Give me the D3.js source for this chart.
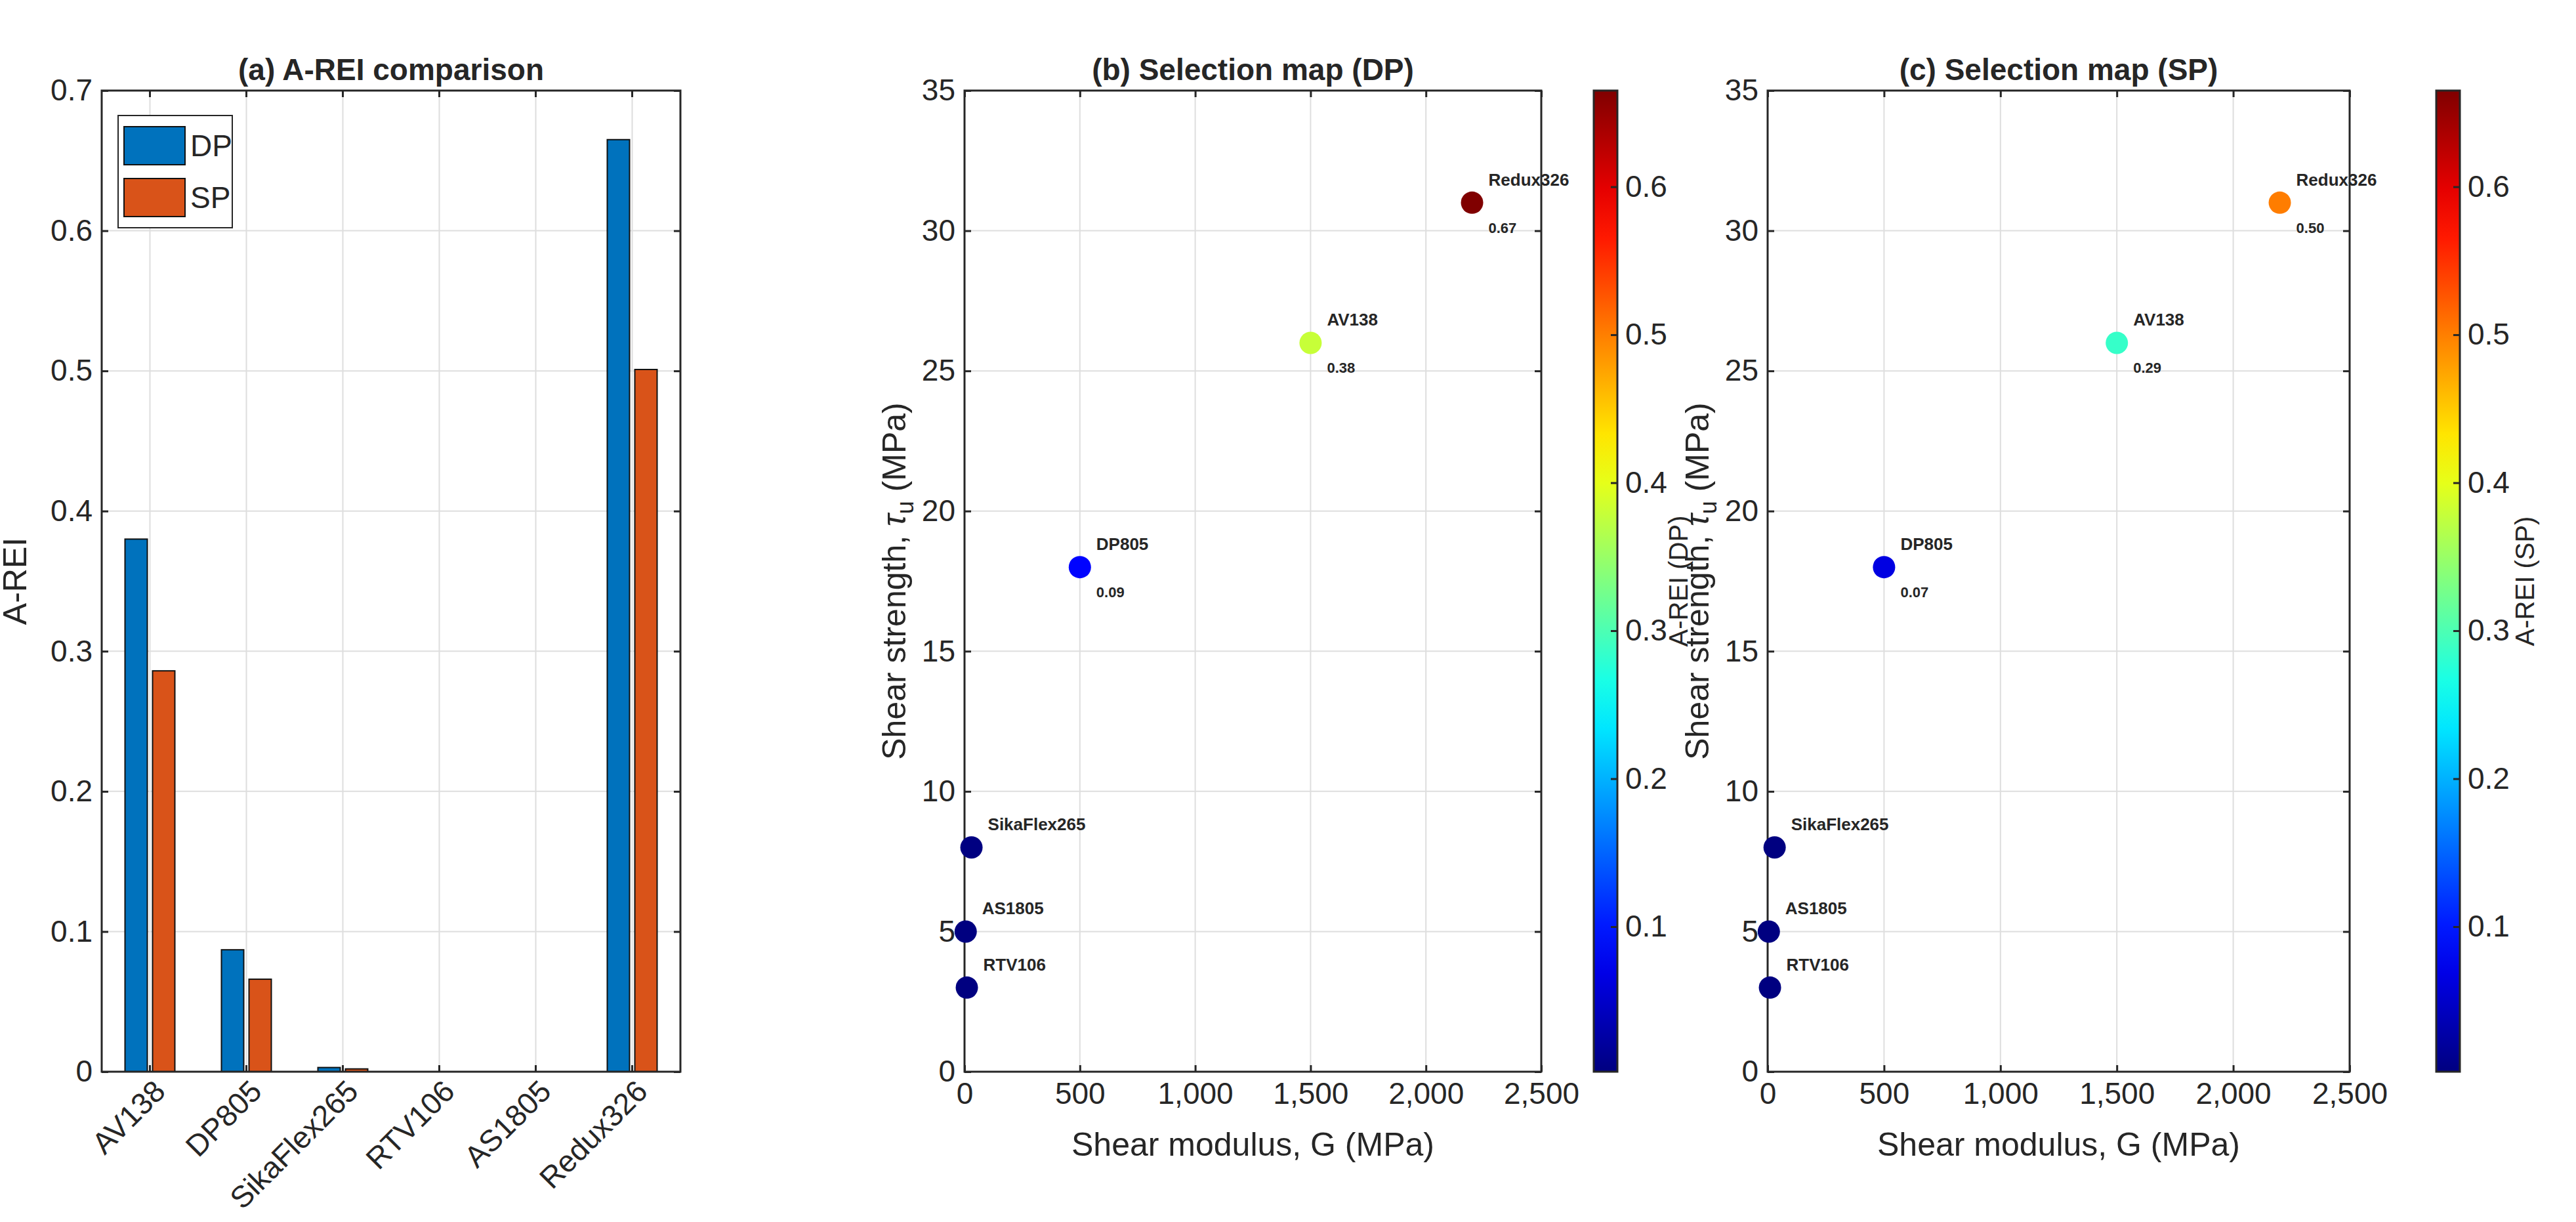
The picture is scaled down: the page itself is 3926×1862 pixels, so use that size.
<!DOCTYPE html>
<html><head><meta charset="utf-8">
<script src="https://cdn.jsdelivr.net/npm/d3@7"></script>
<style>body{margin:0;background:#fff}text{font-family:"Liberation Sans",Arial,sans-serif;fill:#262626}</style>
</head><body><svg id="c" width="3926" height="1862"></svg>
<script>
const materials = ["AV138", "DP805", "SikaFlex265", "RTV106", "AS1805", "Redux326"];
const areiDP = [0.380, 0.087, 0.003, 0, 0, 0.665];
const areiSP = [0.286, 0.066, 0.002, 0, 0, 0.501];
const shearG = [1500, 500, 30, 10, 5, 2200];
const shearTau = [26, 18, 8, 3, 5, 31];
const barYTicks = [0, 0.1, 0.2, 0.3, 0.4, 0.5, 0.6, 0.7];
const gTicks = [0, 500, 1000, 1500, 2000, 2500];
const tauTicks = [0, 5, 10, 15, 20, 25, 30, 35];
const cbarTicks = [0.1, 0.2, 0.3, 0.4, 0.5, 0.6];
const cmin = 0.002, cmax = 0.665;

function jet(t) {
  t = Math.max(0, Math.min(1, t));
  const c = v => Math.round(255 * Math.max(0, Math.min(1, v)));
  return `rgb(${c(1.5 - Math.abs(4 * t - 3))},${c(1.5 - Math.abs(4 * t - 2))},${c(1.5 - Math.abs(4 * t - 1))})`;
}
const color = v => jet((v - cmin) / (cmax - cmin));

const svg = d3.select("#c");
const plotTop = 138, plotBottom = 1633;
const ink = "#262626";

function box(g, w, h) {
  g.append("rect").attr("width", w).attr("height", h).attr("fill", "none").attr("stroke", ink).attr("stroke-width", 3);
}
function grid(g, x, y, xt, yt, w, h) {
  g.selectAll(".gx").data(xt).join("line").attr("x1", x).attr("x2", x).attr("y1", 0).attr("y2", h).attr("stroke", "#dedede").attr("stroke-width", 2);
  g.selectAll(".gy").data(yt).join("line").attr("x1", 0).attr("x2", w).attr("y1", y).attr("y2", y).attr("stroke", "#dedede").attr("stroke-width", 2);
}
function styleAxis(a) {
  a.selectAll("path").remove();
  a.selectAll("line").attr("stroke", ink).attr("stroke-width", 3);
  a.selectAll("text").style("font-size", "46px").attr("fill", ink);
}

// (a) bars
{
  const L = 155, R = 1037, w = R - L, h = plotBottom - plotTop;
  const g = svg.append("g").attr("transform", `translate(${L},${plotTop})`);
  const x = d3.scaleBand().domain(materials).range([0, w]);
  const y = d3.scaleLinear().domain([0, 0.7]).range([h, 0]);
  grid(g, d => x(d) + x.bandwidth() / 2, d => y(d), materials, barYTicks, w, h);
  const bw = 34, off = 21;
  [[areiDP, "#0072BD", -off], [areiSP, "#D95319", off]].forEach(([vals, col, o]) => {
    g.selectAll(null).data(materials).join("rect")
      .attr("x", d => x(d) + x.bandwidth() / 2 + o - bw / 2)
      .attr("y", (d, i) => y(vals[i])).attr("width", bw)
      .attr("height", (d, i) => h - y(vals[i]))
      .attr("fill", col).attr("stroke", "#111").attr("stroke-width", 2)
      .attr("display", (d, i) => vals[i] > 0 ? null : "none");
  });
  const ax = g.append("g").attr("transform", `translate(0,${h})`).call(d3.axisBottom(x).tickSize(-10).tickPadding(14));
  styleAxis(ax);
  ax.selectAll("text").attr("text-anchor", "end").attr("transform", "rotate(-45)").attr("dx", "-0.1em").attr("dy", "0.6em");
  g.append("g").call(d3.axisTop(x).tickSize(-10).tickFormat("")).call(styleAxis);
  g.append("g").call(d3.axisLeft(y).tickValues(barYTicks).tickSize(-10).tickPadding(14).tickFormat(d3.format("~g"))).call(styleAxis);
  g.append("g").attr("transform", `translate(${w},0)`).call(d3.axisRight(y).tickValues(barYTicks).tickSize(-10).tickFormat("")).call(styleAxis);
  box(g, w, h);
  g.append("text").attr("x", w / 2).attr("y", -16).attr("text-anchor", "middle").style("font-size", "46px").style("font-weight", "bold").attr("fill", "#000").text("(a) A-REI comparison");
  g.append("text").attr("transform", `translate(-115,${h / 2}) rotate(-90)`).attr("text-anchor", "middle").style("font-size", "50px").text("A-REI");
  // legend
  const lg = g.append("g").attr("transform", "translate(25,38)");
  lg.append("rect").attr("width", 174).attr("height", 171).attr("fill", "#fff").attr("stroke", ink).attr("stroke-width", 2);
  [["DP", "#0072BD"], ["SP", "#D95319"]].forEach(([n, c], i) => {
    lg.append("rect").attr("x", 9).attr("y", 17 + i * 79).attr("width", 93).attr("height", 58).attr("fill", c).attr("stroke", "#111").attr("stroke-width", 2);
    lg.append("text").attr("x", 110).attr("y", 62 + i * 79).style("font-size", "46px").attr("fill", "#000").text(n);
  });
}

// (b), (c) scatter maps
function mapPanel(L, R, cbL, labelX, vals, title, cbLabel) {
  const w = R - L, h = plotBottom - plotTop;
  const g = svg.append("g").attr("transform", `translate(${L},${plotTop})`);
  const x = d3.scaleLinear().domain([0, 2500]).range([0, w]);
  const y = d3.scaleLinear().domain([0, 35]).range([h, 0]);
  grid(g, d => x(d), d => y(d), gTicks, tauTicks, w, h);
  g.append("g").attr("transform", `translate(0,${h})`).call(d3.axisBottom(x).tickValues(gTicks).tickSize(-10).tickPadding(16)).call(styleAxis);
  g.append("g").call(d3.axisTop(x).tickValues(gTicks).tickSize(-10).tickFormat("")).call(styleAxis);
  g.append("g").call(d3.axisLeft(y).tickValues(tauTicks).tickSize(-10).tickPadding(14)).call(styleAxis);
  g.append("g").attr("transform", `translate(${w},0)`).call(d3.axisRight(y).tickValues(tauTicks).tickSize(-10).tickFormat("")).call(styleAxis);
  box(g, w, h);
  materials.forEach((m, i) => {
    const px = x(shearG[i]), py = y(shearTau[i]);
    g.append("circle").attr("cx", px).attr("cy", py).attr("r", 17).attr("fill", color(vals[i]));
    g.append("text").attr("x", px + 25).attr("y", py - 26).style("font-size", "26px").style("font-weight", "bold").attr("fill", "#000").text(m);
    if (vals[i] > 0.05)
      g.append("text").attr("x", px + 25).attr("y", py + 46).style("font-size", "22px").style("font-weight", "bold").attr("fill", "#000").text(vals[i].toFixed(2));
  });
  g.append("text").attr("x", w / 2).attr("y", -16).attr("text-anchor", "middle").style("font-size", "46px").style("font-weight", "bold").attr("fill", "#000").text(title);
  g.append("text").attr("x", w / 2).attr("y", h + 128).attr("text-anchor", "middle").style("font-size", "50px").text("Shear modulus, G (MPa)");
  const yl = g.append("text").attr("transform", `translate(-90,${h / 2}) rotate(-90)`).attr("text-anchor", "middle").style("font-size", "50px");
  yl.append("tspan").text("Shear strength, ");
  yl.append("tspan").style("font-style", "italic").text("τ");
  yl.append("tspan").attr("dy", 12).style("font-size", "36px").text("u");
  yl.append("tspan").attr("dy", -12).text(" (MPa)");
  // colorbar
  const cw = 36;
  const cg = svg.append("g").attr("transform", `translate(${cbL},${plotTop})`);
  const cs = d3.scaleLinear().domain([cmin, cmax]).range([h, 0]);
  const gid = "grad" + L;
  const grad = svg.append("defs").append("linearGradient").attr("id", gid).attr("x1", 0).attr("x2", 0).attr("y1", 1).attr("y2", 0);
  d3.range(0, 1.0001, 0.05).forEach(t => grad.append("stop").attr("offset", t).attr("stop-color", jet(t)));
  cg.append("rect").attr("width", cw).attr("height", h).attr("fill", `url(#${gid})`).attr("stroke", ink).attr("stroke-width", 3);
  const ca = cg.append("g").attr("transform", `translate(${cw},0)`).call(d3.axisRight(cs).tickValues(cbarTicks).tickSize(10).tickPadding(12).tickFormat(d3.format(".1f"))).call(styleAxis);
  ca.selectAll("line").attr("x2", -10);
  ca.selectAll("text").attr("x", 12);
  svg.append("text").attr("transform", `translate(${labelX},${plotTop + h / 2}) rotate(-90)`).attr("text-anchor", "middle").style("font-size", "40px").text(cbLabel);
}
mapPanel(1470, 2349, 2429, 2572, areiDP, "(b) Selection map (DP)", "A-REI (DP)");
mapPanel(2694, 3581, 3713, 3862, areiSP, "(c) Selection map (SP)", "A-REI (SP)");
</script></body></html>
